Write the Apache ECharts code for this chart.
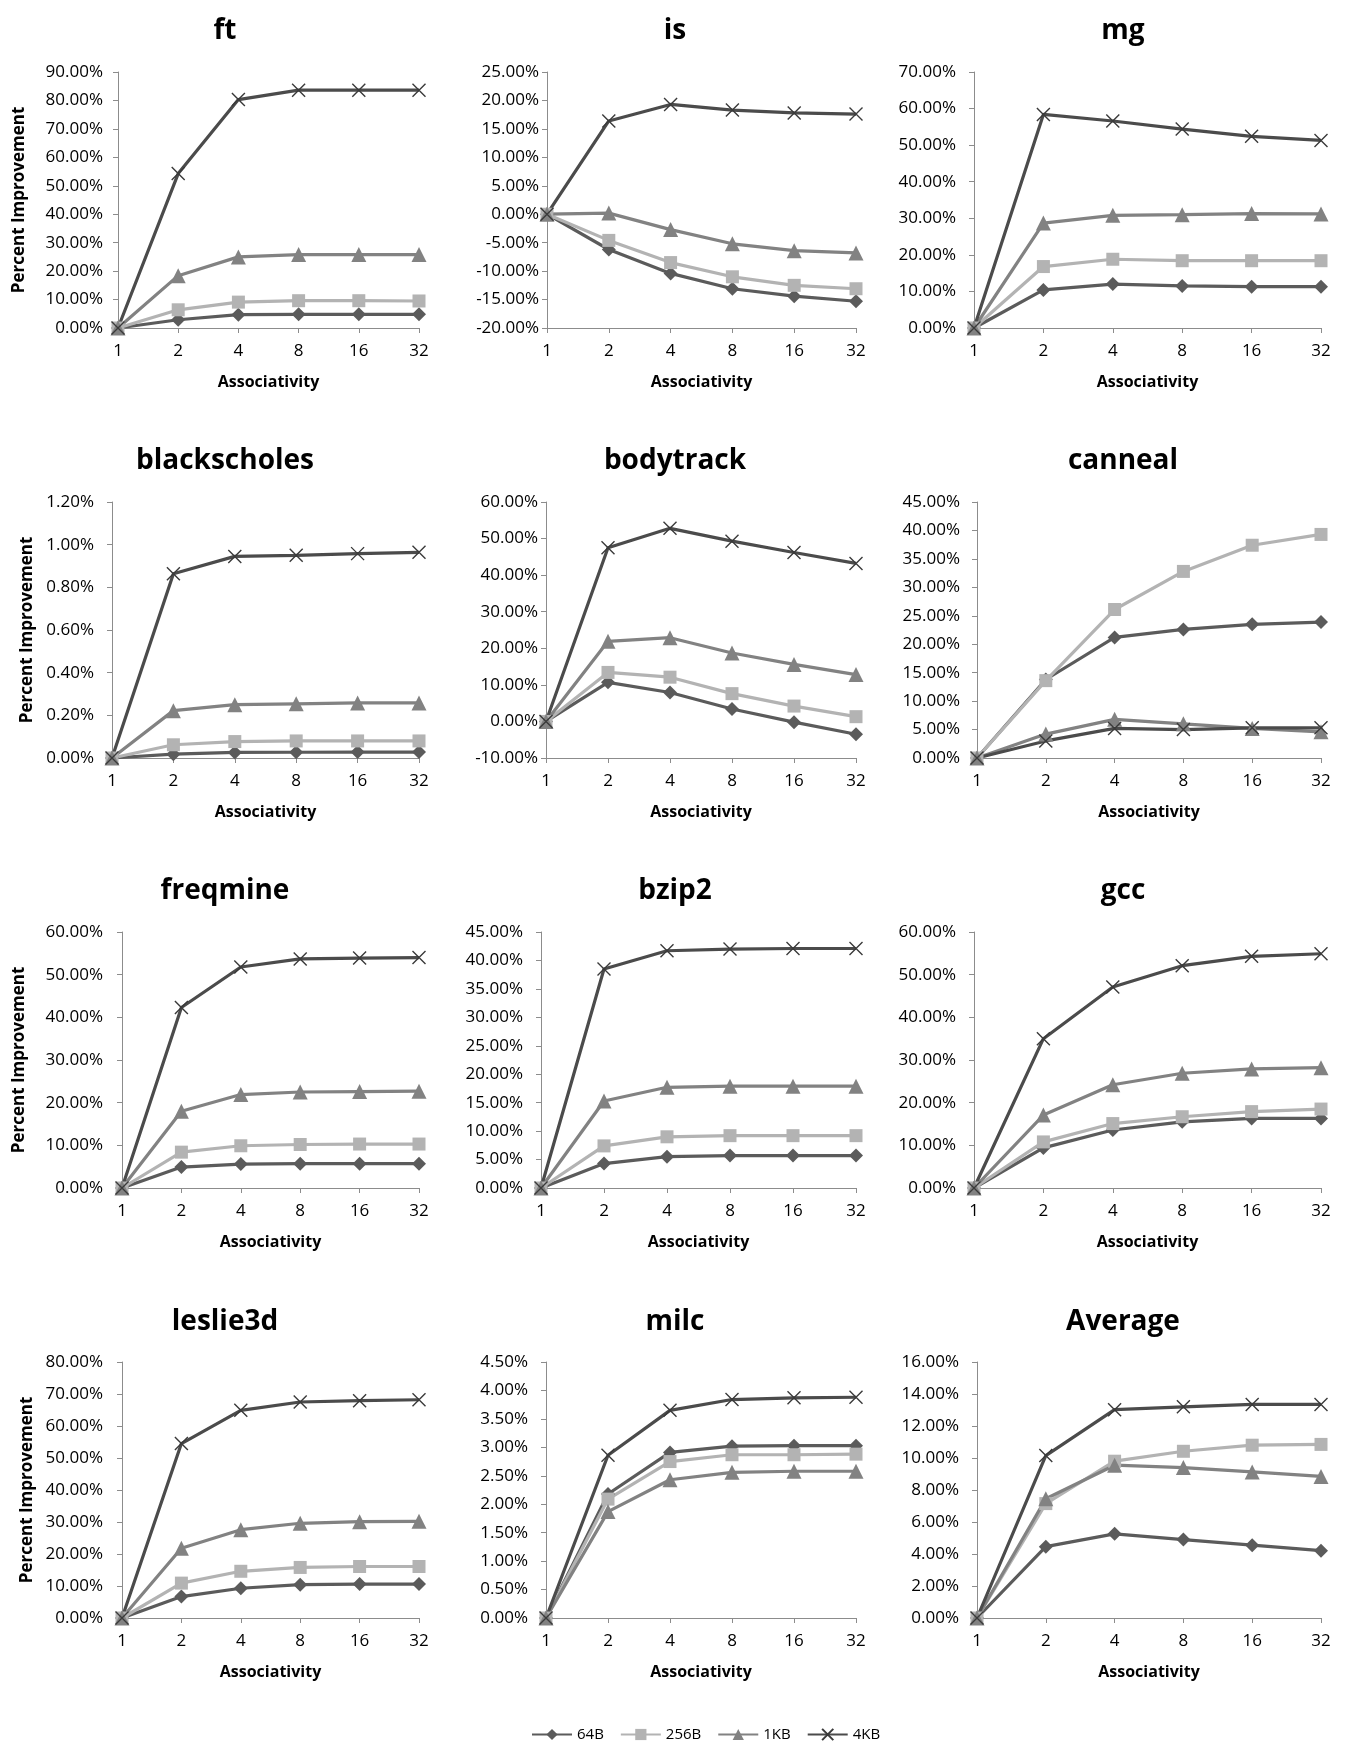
<!DOCTYPE html>
<html>
<head>
<meta charset="utf-8">
<script src="https://cdn.jsdelivr.net/npm/echarts@6/dist/echarts.min.js"></script>
<style>
    html, body { margin: 0; padding: 0; background: #fff; }
    #main { width: 1345px; height: 1742px; }
</style>
</head>
<body>
<div id="main"></div>
<script>
    const categories = ['1', '2', '4', '8', '16', '32'];
    const seriesNames = ['64B', '256B', '1KB', '4KB'];
    const titles = ['ft', 'is', 'mg', 'blackscholes', 'bodytrack', 'canneal',
        'freqmine', 'bzip2', 'gcc', 'leslie3d', 'milc', 'Average'];

    // percent values, rows: 64B, 256B, 1KB, 4KB
    const ft = [
        [0, 2.9, 4.7, 4.8, 4.8, 4.8],
        [0, 6.4, 9.1, 9.6, 9.6, 9.5],
        [0, 18.4, 25.0, 25.8, 25.8, 25.8],
        [0, 54.3, 80.3, 83.6, 83.6, 83.6]
    ];
    const is = [
        [0, -6.2, -10.4, -13.1, -14.4, -15.3],
        [0, -4.6, -8.5, -11.0, -12.5, -13.1],
        [0, 0.2, -2.7, -5.2, -6.4, -6.8],
        [0, 16.4, 19.3, 18.3, 17.8, 17.6]
    ];
    const mg = [
        [0, 10.4, 12.0, 11.5, 11.3, 11.3],
        [0, 16.8, 18.8, 18.4, 18.4, 18.4],
        [0, 28.7, 30.8, 31.0, 31.3, 31.2],
        [0, 58.4, 56.6, 54.4, 52.4, 51.3]
    ];
    const blackscholes = [
        [0, 0.018, 0.026, 0.027, 0.028, 0.028],
        [0, 0.062, 0.077, 0.080, 0.080, 0.080],
        [0, 0.222, 0.250, 0.254, 0.258, 0.258],
        [0, 0.864, 0.945, 0.950, 0.958, 0.964]
    ];
    const bodytrack = [
        [0, 10.7, 7.9, 3.4, -0.2, -3.5],
        [0, 13.4, 12.1, 7.6, 4.2, 1.3],
        [0, 21.9, 22.9, 18.7, 15.6, 12.8],
        [0, 47.5, 52.8, 49.3, 46.2, 43.2]
    ];
    const canneal = [
        [0, 13.8, 21.2, 22.6, 23.5, 23.9],
        [0, 13.6, 26.1, 32.8, 37.4, 39.3],
        [0, 4.2, 6.8, 6.0, 5.2, 4.6],
        [0, 3.0, 5.2, 5.0, 5.3, 5.3]
    ];
    const freqmine = [
        [0, 4.9, 5.6, 5.7, 5.7, 5.7],
        [0, 8.4, 9.9, 10.2, 10.3, 10.3],
        [0, 18.0, 21.9, 22.5, 22.6, 22.7],
        [0, 42.3, 51.8, 53.7, 53.9, 54.0]
    ];
    const bzip2 = [
        [0, 4.3, 5.5, 5.7, 5.7, 5.7],
        [0, 7.4, 9.0, 9.2, 9.2, 9.2],
        [0, 15.3, 17.7, 17.9, 17.9, 17.9],
        [0, 38.5, 41.7, 42.0, 42.1, 42.1]
    ];
    const gcc = [
        [0, 9.4, 13.6, 15.5, 16.3, 16.3],
        [0, 10.8, 15.1, 16.7, 17.9, 18.5],
        [0, 17.1, 24.2, 26.9, 27.9, 28.2],
        [0, 35.0, 47.1, 52.1, 54.3, 54.9]
    ];
    const leslie3d = [
        [0, 6.7, 9.3, 10.4, 10.6, 10.6],
        [0, 10.9, 14.6, 15.8, 16.1, 16.1],
        [0, 21.8, 27.6, 29.6, 30.1, 30.2],
        [0, 54.5, 64.9, 67.5, 67.9, 68.2]
    ];
    const milc = [
        [0, 2.18, 2.91, 3.02, 3.03, 3.03],
        [0, 2.09, 2.75, 2.87, 2.87, 2.88],
        [0, 1.87, 2.43, 2.56, 2.58, 2.58],
        [0, 2.86, 3.65, 3.84, 3.87, 3.88]
    ];
    const average = [
        [0, 4.46, 5.26, 4.90, 4.55, 4.21],
        [0, 7.15, 9.80, 10.42, 10.80, 10.85],
        [0, 7.45, 9.55, 9.40, 9.13, 8.85],
        [0, 10.15, 13.02, 13.20, 13.35, 13.35]
    ];
    const panels = [ft, is, mg, blackscholes, bodytrack, canneal, freqmine, bzip2, gcc, leslie3d, milc, average];

    const yMin = [0, -20, 0, 0, -10, 0, 0, 0, 0, 0, 0, 0];
    const yMax = [90, 25, 70, 1.2, 60, 45, 60, 45, 60, 80, 4.5, 16];
    const yStep = [10, 5, 10, 0.2, 10, 5, 10, 5, 10, 10, 0.5, 2];

    // layout
    const rowTop = [72, 502, 932, 1362];
    const rowHeight = 256;
    const colRight = [419, 856, 1321];
    const plotLeft = [118, 547, 974, 112, 546, 977, 122, 541, 974, 122, 546, 977];
    const labelGap = [15, 8, 18, 18, 8, 17, 19, 18, 18, 19, 18, 18];
    const titleCenter = [220, 670, 1118];
    const titleTop = [12, 442, 872, 1303];
    const yNameGap = [90, 76, 94, 86];

    const colors = ['#5b5b5b', '#b3b3b3', '#828282', '#4b4b4b'];
    const symbols = ['diamond', 'rect', 'triangle', 'path://M0,0L10,10M10,0L0,10'];
    const symbolSizes = [14, 13, 15, 13];
    const axisColor = '#8c8c8c';

    const grid = [], xAxis = [], yAxis = [], title = [], series = [];
    panels.forEach(function (data, i) {
        const row = Math.floor(i / 3), col = i % 3;
        grid.push({
            left: plotLeft[i],
            top: rowTop[row],
            width: colRight[col] - plotLeft[i],
            height: rowHeight
        });
        title.push({
            text: titles[i],
            left: titleCenter[col],
            top: titleTop[row],
            textAlign: 'center',
            textStyle: {fontFamily: 'Open Sans', fontWeight: 'bold', fontSize: 28, color: '#000'}
        });
        xAxis.push({
            type: 'category',
            gridIndex: i,
            data: categories,
            boundaryGap: false,
            name: 'Associativity',
            nameLocation: 'middle',
            nameGap: 46,
            nameTextStyle: {fontFamily: 'Open Sans', fontWeight: 'bold', fontSize: 16, color: '#000'},
            axisLine: {onZero: false, lineStyle: {color: axisColor, width: 1}},
            axisTick: {show: true, length: 5, lineStyle: {color: axisColor}},
            axisLabel: {margin: 15, fontFamily: 'Open Sans', fontSize: 17, color: '#000'},
            splitLine: {show: false}
        });
        yAxis.push({
            type: 'value',
            gridIndex: i,
            min: yMin[i],
            max: yMax[i],
            interval: yStep[i],
            name: col === 0 ? 'Percent Improvement' : '',
            nameLocation: 'middle',
            nameGap: yNameGap[row],
            nameTextStyle: {fontFamily: 'Open Sans', fontWeight: 'bold', fontSize: 17, color: '#000'},
            axisLine: {show: true, lineStyle: {color: axisColor, width: 1}},
            axisTick: {show: true, length: 5, lineStyle: {color: axisColor}},
            axisLabel: {
                margin: labelGap[i],
                fontFamily: 'Open Sans',
                fontSize: 17,
                color: '#000',
                formatter: function (v) { return v.toFixed(2) + '%'; }
            },
            splitLine: {show: false}
        });
        data.forEach(function (vals, k) {
            series.push({
                name: seriesNames[k],
                type: 'line',
                xAxisIndex: i,
                yAxisIndex: i,
                data: vals,
                symbol: symbols[k],
                symbolSize: symbolSizes[k],
                showAllSymbol: true,
                lineStyle: {color: colors[k], width: 3.2},
                itemStyle: k === 3
                    ? {color: '#3a3a3a', borderColor: '#3a3a3a', borderWidth: 1.4}
                    : {color: colors[k], borderWidth: 0},
                emphasis: {disabled: true}
            });
        });
    });

    const myChart = echarts.init(document.getElementById('main'));
    myChart.setOption({
        animation: false,
        backgroundColor: '#fff',
        title: title,
        grid: grid,
        xAxis: xAxis,
        yAxis: yAxis,
        legend: {
            data: seriesNames,
            left: 526,
            top: 1722,
            itemWidth: 40,
            itemHeight: 14,
            itemGap: 16,
            textStyle: {fontFamily: 'Open Sans', fontSize: 15, color: '#000'}
        },
        series: series
    });
</script>
</body>
</html>
